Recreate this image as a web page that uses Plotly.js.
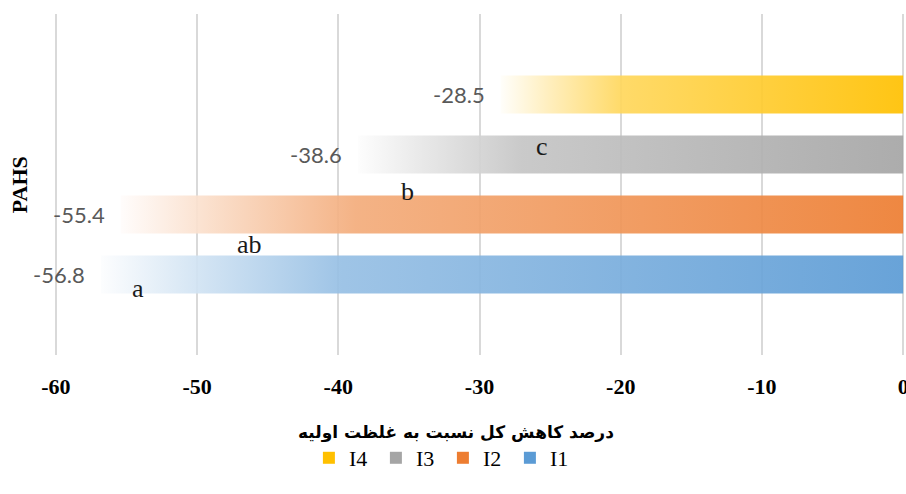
<!DOCTYPE html>
<html>
<head>
<meta charset="utf-8">
<script src="https://cdn.plot.ly/plotly-3.0.1.min.js"></script>
<style>
  html, body { margin: 0; padding: 0; background: #fff; }
  #chart { width: 906px; height: 494px; }
</style>
</head>
<body>
<div id="chart"></div>
<script>
// series, listed bottom to top as they sit in the chart
var seriesNames = ['I1', 'I2', 'I3', 'I4'];
var reduction = [-56.8, -55.4, -38.6, -28.5];
var groupLetters = ['a', 'ab', 'b', 'c'];
var tickVals = [-60, -50, -40, -30, -20, -10, 0];
var tickText = ['-60', '-50', '-40', '-30', '-20', '-10', '0'];
var xTitle = 'درصد کاهش کل نسبت به غلظت اولیه';
var yTitle = 'PAHS';

var baseColors = ['#5b9bd5', '#ed7d31', '#a5a5a5', '#ffc000'];
// where each significance letter is written (x on the value axis, y on the series axis)
var letterPos = [[-54.2, -0.23], [-46.3, 0.5], [-35.1, 1.39], [-25.6, 2.14]];
var halfBar = 0.317;

// blend a colour with white, t = 0 white, t = 1 full colour
function tint(hex, t, a) {
  var r = parseInt(hex.substr(1, 2), 16);
  var g = parseInt(hex.substr(3, 2), 16);
  var b = parseInt(hex.substr(5, 2), 16);
  var m = function(c) { return Math.round(255 - (255 - c) * t); };
  return 'rgba(' + m(r) + ',' + m(g) + ',' + m(b) + ',' + a + ')';
}

var traces = [];
var annotations = [];

seriesNames.forEach(function(name, i) {
  var v = reduction[i];
  var c = baseColors[i];
  // bar drawn as a filled shape so it can carry a horizontal gradient
  traces.push({
    type: 'scatter',
    mode: 'lines',
    x: [v, 0, 0, v, v],
    y: [i - halfBar, i - halfBar, i + halfBar, i + halfBar, i - halfBar],
    fill: 'toself',
    fillgradient: {
      type: 'horizontal',
      colorscale: [
        [0, tint(c, 0.02, 0.92)],
        [0.12, tint(c, 0.28, 0.92)],
        [0.3, tint(c, 0.64, 0.92)],
        [1, tint(c, 1, 0.92)]
      ]
    },
    line: { width: 0 },
    showlegend: false,
    hoverinfo: 'skip'
  });

  annotations.push({
    x: v, y: i, xref: 'x', yref: 'y',
    text: v.toFixed(1),
    showarrow: false,
    xanchor: 'right', yanchor: 'middle',
    xshift: -14,
    font: { family: 'Lato, sans-serif', size: 22, color: '#595959' }
  });

  annotations.push({
    x: letterPos[i][0], y: letterPos[i][1], xref: 'x', yref: 'y',
    text: groupLetters[i],
    showarrow: false,
    xanchor: 'center', yanchor: 'middle',
    font: { family: 'Liberation Serif, serif', size: 26, color: '#1a1a1a' }
  });
});

// legend entries, top series first
for (var k = seriesNames.length - 1; k >= 0; k--) {
  traces.push({
    type: 'bar',
    orientation: 'h',
    x: [null], y: [null],
    name: seriesNames[k],
    marker: { color: baseColors[k] },
    showlegend: true
  });
}

annotations.push({
  xref: 'paper', yref: 'paper',
  x: 0.4725, y: -0.226,
  text: '<b>' + xTitle + '</b>',
  showarrow: false,
  xanchor: 'center', yanchor: 'middle',
  font: { family: 'DejaVu Sans, sans-serif', size: 17, color: '#000' }
});
annotations.push({
  xref: 'paper', yref: 'paper',
  x: -0.039, y: 0.5,
  text: '<b>' + yTitle + '</b>',
  textangle: -90,
  showarrow: false,
  xanchor: 'center', yanchor: 'middle',
  font: { family: 'Liberation Serif, serif', size: 22, color: '#000' }
});

var layout = {
  width: 906,
  height: 494,
  margin: { l: 53, r: 0, t: 14, b: 139 },
  paper_bgcolor: '#fff',
  plot_bgcolor: '#fff',
  showlegend: true,
  xaxis: {
    range: [-60.2, 0.2],
    tickvals: tickVals,
    ticktext: tickText,
    showgrid: true,
    gridcolor: '#d9d9d9',
    gridwidth: 2,
    zeroline: false,
    showline: false,
    ticks: '',
    ticklabelstandoff: 16,
    ticklabeloverflow: 'allow',
    tickfont: { family: 'Liberation Serif, serif', size: 22, color: '#000', weight: 'bold' }
  },
  yaxis: {
    range: [-1.342, 4.342],
    showgrid: false,
    zeroline: false,
    showticklabels: false,
    showline: false,
    ticks: ''
  },
  legend: {
    orientation: 'h',
    x: 0.3, y: -0.302,
    xanchor: 'left', yanchor: 'middle',
    entrywidth: 22,
    entrywidthmode: 'pixels',
    font: { family: 'Liberation Serif, serif', size: 22, color: '#000' },
    traceorder: 'normal'
  },
  annotations: annotations,
  hovermode: false
};

Plotly.newPlot('chart', traces, layout, { displayModeBar: false, staticPlot: true });
</script>
</body>
</html>
